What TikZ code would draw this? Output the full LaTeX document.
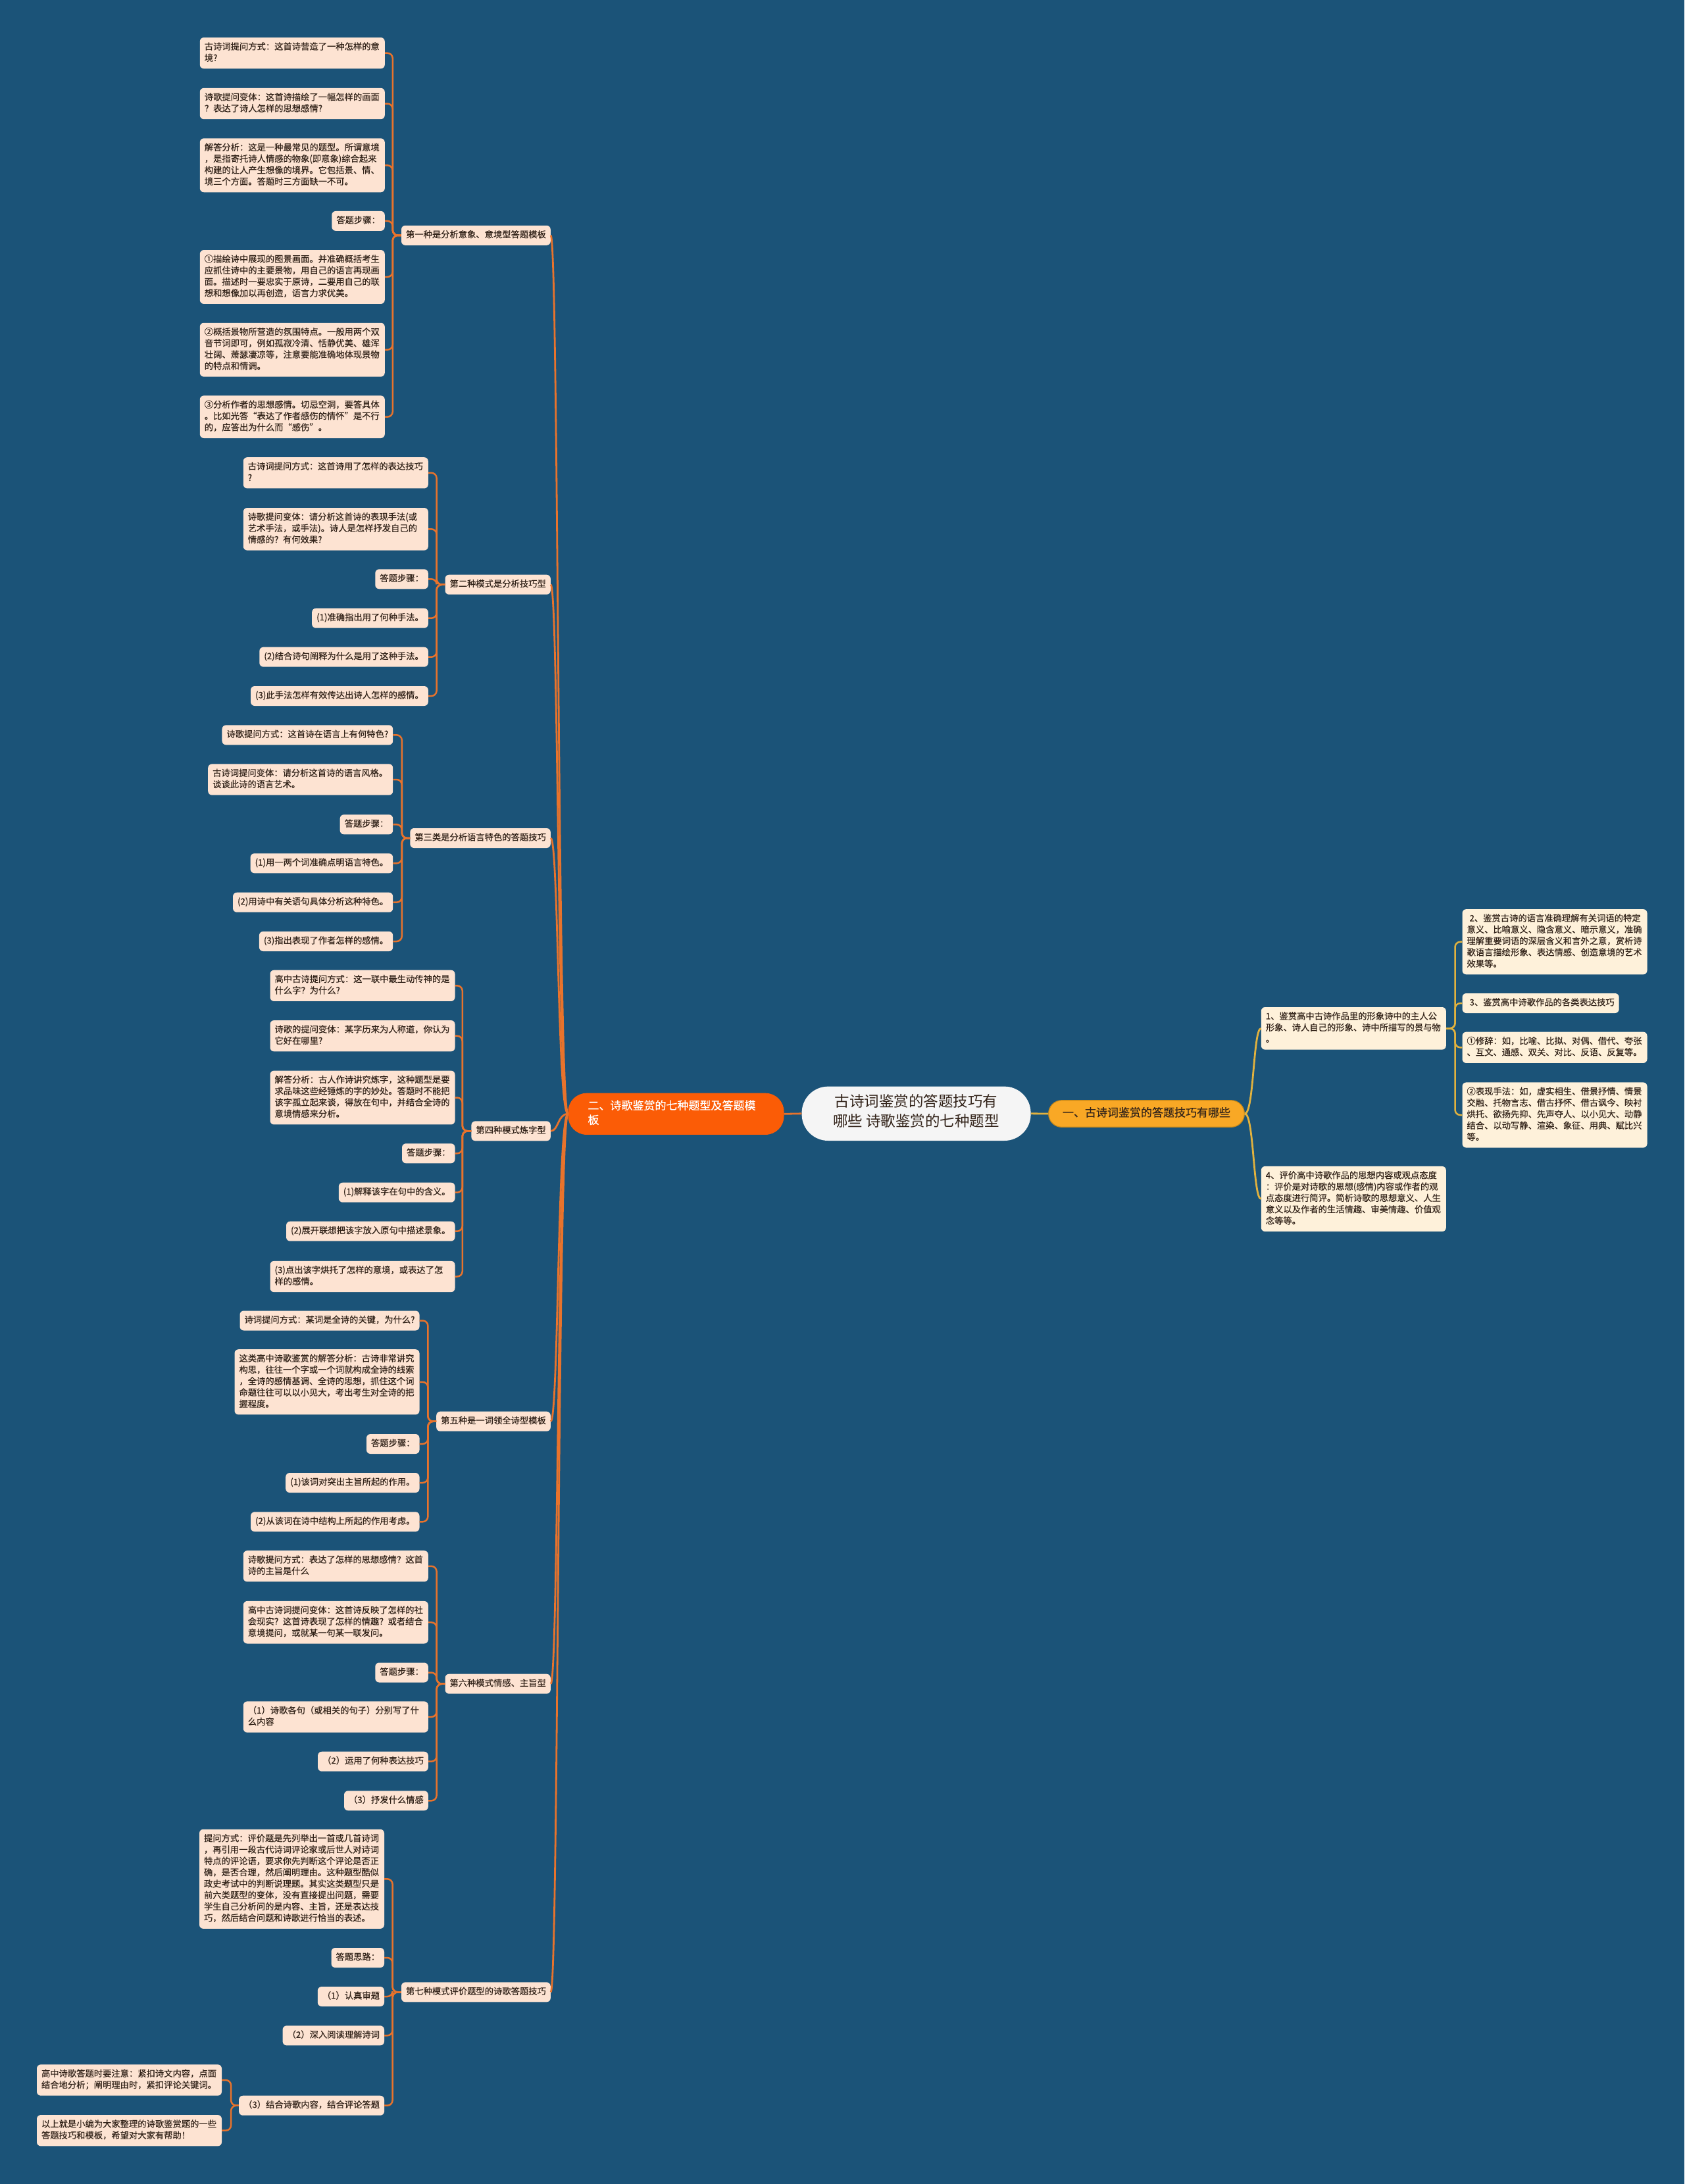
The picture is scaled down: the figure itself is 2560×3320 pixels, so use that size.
\documentclass[tikz,border=0pt]{standalone}
\usepackage{fontspec}
\setmainfont{Noto Sans CJK SC}
\newfontfamily\heavy{Noto Sans CJK SC}[FakeBold=0.5]
\definecolor{bg}{HTML}{1B5378}
\definecolor{lfill}{HTML}{FDE3D2}
\definecolor{rfill}{HTML}{FEF1DA}
\definecolor{ltext}{HTML}{33241A}
\definecolor{lconn}{HTML}{E8732C}
\definecolor{rconn}{HTML}{E2B23E}
\definecolor{mleft}{HTML}{FB5C06}
\definecolor{mright}{HTML}{F9A825}
\definecolor{mrightb}{HTML}{C98A1A}
\definecolor{cfill}{HTML}{F5F5F5}
\tikzset{
  base/.style={rounded corners=6pt, inner xsep=7pt, inner ysep=6.35pt, align=left, text=ltext,
    font=\heavy\fontsize{13.3pt}{17.3pt}\selectfont, execute at begin node=\strut, execute at end node=\strut},
  lleaf/.style={base, fill=lfill, anchor=east},
  wl/.style={lleaf, text width=267pt},
  rleaf/.style={base, fill=rfill, anchor=west},
  wr/.style={rleaf, text width=267pt},
  grp/.style={base, fill=lfill, anchor=east},
  lc/.style={draw=lconn, line width=2.5pt, rounded corners=8pt},
  rc/.style={draw=rconn, line width=2.5pt, rounded corners=8pt},
  trunkl/.style={draw=lconn, line width=2.8pt},
  trunkr/.style={draw=rconn, line width=2.8pt},
  mainleft/.style={fill=mleft, text=white, rounded corners=28pt, font=\heavy\fontsize{17pt}{22pt}\selectfont,
    text width=268pt, inner xsep=30pt, inner ysep=9.6pt, align=left, execute at begin node=\strut, execute at end node=\strut},
  mainright/.style={fill=mright, draw=mrightb, line width=1.2pt, text=ltext, rounded corners=20pt, font=\heavy\fontsize{17pt}{22pt}\selectfont,
    minimum width=297.6pt, inner xsep=4pt, inner ysep=9.3pt, align=center, execute at begin node=\strut, execute at end node=\strut},
  centre/.style={fill=cfill, text=ltext, rounded corners=40pt, font=\fontsize{22.5pt}{30pt}\selectfont,
    minimum width=348pt, inner xsep=4pt, inner ysep=12.15pt, align=center, execute at begin node=\strut, execute at end node=\strut},
}
\begin{document}
\begin{tikzpicture}[x=1pt,y=-1pt]
\fill[bg] (0,0) rectangle (2560,3320);
\useasboundingbox (0,0) rectangle (2560,3320);

% central
\node[centre] (c) at (1392.6,1692.8) {古诗词鉴赏的答题技巧有\\哪些 诗歌鉴赏的七种题型};
\node[mainleft] (m2) at (1027.5,1693.3) {二、诗歌鉴赏的七种题型及答题模\\板};
\node[mainright] (m1) at (1742.5,1693) {一、古诗词鉴赏的答题技巧有哪些};
\draw[trunkl] (c.west) -- (m2.east);
\draw[trunkr] (c.east) -- (m1.west);

% right side
\node[wr] (r1) at (1916.6,1563.3) {1、鉴赏高中古诗作品里的形象诗中的主人公\\形象、诗人自己的形象、诗中所描写的景与物\\。};
\node[wr] (r4) at (1916.6,1822.5) {4、评价高中诗歌作品的思想内容或观点态度\\：评价是对诗歌的思想(感情)内容或作者的观\\点态度进行简评。简析诗歌的思想意义、人生\\意义以及作者的生活情趣、审美情趣、价值观\\念等等。};
\node[wr] (ra) at (2222.3,1431.7) {\hspace*{4pt}2、鉴赏古诗的语言准确理解有关词语的特定\\意义、比喻意义、隐含意义、暗示意义，准确\\理解重要词语的深层含义和言外之意，赏析诗\\歌语言描绘形象、表达情感、创造意境的艺术\\效果等。};
\node[rleaf] (rb) at (2222.3,1525) {\hspace*{4pt}3、鉴赏高中诗歌作品的各类表达技巧};
\node[wr] (rcx) at (2222.3,1592.3) {①修辞：如，比喻、比拟、对偶、借代、夸张\\、互文、通感、双关、对比、反语、反复等。};
\node[wr] (rd) at (2222.3,1695) {②表现手法：如，虚实相生、借景抒情、情景\\交融、托物言志、借古抒怀、借古讽今、映衬\\烘托、欲扬先抑、先声夺人、以小见大、动静\\结合、以动写静、渲染、象征、用典、赋比兴\\等。};
\draw[trunkr] (m1.east) .. controls +(14,0) and +(-12,0) .. (r1.west);
\draw[trunkr] (m1.east) .. controls +(14,0) and +(-12,0) .. (r4.west);
\foreach \t in {ra,rb,rcx,rd} \draw[rc] (r1.east) -- ++(13.5,0) |- (\t.west);

% group 1
\node[grp] (g1) at (837,357.8) {第一种是分析意象、意境型答题模板};
\node[wl] (g1a) at (585,80.7) {古诗词提问方式：这首诗营造了一种怎样的意\\境?};
\node[wl] (g1b) at (585,157.5) {诗歌提问变体：这首诗描绘了一幅怎样的画面\\？表达了诗人怎样的思想感情?};
\node[wl] (g1c) at (585,251.3) {解答分析：这是一种最常见的题型。所谓意境\\，是指寄托诗人情感的物象(即意象)综合起来\\构建的让人产生想像的境界。它包括景、情、\\境三个方面。答题时三方面缺一不可。};
\node[lleaf] (g1d) at (585,335.9) {答题步骤：};
\node[wl] (g1e) at (585,421) {①描绘诗中展现的图景画面。并准确概括考生\\应抓住诗中的主要景物，用自己的语言再现画\\面。描述时一要忠实于原诗，二要用自己的联\\想和想像加以再创造，语言力求优美。};
\node[wl] (g1f) at (585,531.7) {②概括景物所营造的氛围特点。一般用两个双\\音节词即可，例如孤寂冷清、恬静优美、雄浑\\壮阔、萧瑟凄凉等，注意要能准确地体现景物\\的特点和情调。};
\node[wl] (g1g) at (585,633.7) {③分析作者的思想感情。切忌空洞，要答具体\\。比如光答“表达了作者感伤的情怀”是不行\\的，应答出为什么而“感伤”。};
\foreach \t in {g1a,g1b,g1c,g1d,g1e,g1f,g1g} \draw[lc] (g1.west) -- ++(-13,0) |- (\t.east);

% group 2
\node[grp] (g2) at (837,888.7) {第二种模式是分析技巧型};
\node[wl] (g2a) at (651,718.8) {古诗词提问方式：这首诗用了怎样的表达技巧\\?};
\node[wl] (g2b) at (651,804.3) {诗歌提问变体：请分析这首诗的表现手法(或\\艺术手法，或手法)。诗人是怎样抒发自己的\\情感的？有何效果?};
\node[lleaf] (g2c) at (651,880.3) {答题步骤：};
\node[lleaf] (g2d) at (651,939.7) {(1)准确指出用了何种手法。};
\node[lleaf] (g2e) at (651,998.7) {(2)结合诗句阐释为什么是用了这种手法。};
\node[lleaf] (g2f) at (651,1058) {(3)此手法怎样有效传达出诗人怎样的感情。};
\foreach \t in {g2a,g2b,g2c,g2d,g2e,g2f} \draw[lc] (g2.west) -- ++(-12.7,0) |- (\t.east);

% group 3
\node[grp] (g3) at (837,1274) {第三类是分析语言特色的答题技巧};
\node[lleaf] (g3a) at (597.4,1117.3) {诗歌提问方式：这首诗在语言上有何特色?};
\node[wl] (g3b) at (597.4,1185) {古诗词提问变体：请分析这首诗的语言风格。\\谈谈此诗的语言艺术。};
\node[lleaf] (g3c) at (597.4,1253.3) {答题步骤：};
\node[lleaf] (g3d) at (597.4,1312.3) {(1)用一两个词准确点明语言特色。};
\node[lleaf] (g3e) at (597.4,1371.7) {(2)用诗中有关语句具体分析这种特色。};
\node[lleaf] (g3f) at (597.4,1431) {(3)指出表现了作者怎样的感情。};
\foreach \t in {g3a,g3b,g3c,g3d,g3e,g3f} \draw[lc] (g3.west) -- ++(-12.3,0) |- (\t.east);

% group 4
\node[grp] (g4) at (837,1719.3) {第四种模式炼字型};
\node[wl] (g4a) at (691.7,1498.3) {高中古诗提问方式：这一联中最生动传神的是\\什么字？为什么?};
\node[wl] (g4b) at (691.7,1574.7) {诗歌的提问变体：某字历来为人称道，你认为\\它好在哪里?};
\node[wl] (g4c) at (691.7,1668.5) {解答分析：古人作诗讲究炼字，这种题型是要\\求品味这些经锤炼的字的妙处。答题时不能把\\该字孤立起来谈，得放在句中，并结合全诗的\\意境情感来分析。};
\node[lleaf] (g4d) at (691.7,1753.3) {答题步骤：};
\node[lleaf] (g4e) at (691.7,1812.7) {(1)解释该字在句中的含义。};
\node[lleaf] (g4f) at (691.7,1871.7) {(2)展开联想把该字放入原句中描述景象。};
\node[wl] (g4g) at (691.7,1940.5) {(3)点出该字烘托了怎样的意境，或表达了怎\\样的感情。};
\foreach \t in {g4a,g4b,g4c,g4d,g4e,g4f,g4g} \draw[lc] (g4.west) -- ++(-13.4,0) |- (\t.east);

% group 5
\node[grp] (g5) at (837,2160.7) {第五种是一词领全诗型模板};
\node[lleaf] (g5a) at (637.7,2007.5) {诗词提问方式：某词是全诗的关键，为什么?};
\node[wl] (g5b) at (637.7,2100.8) {这类高中诗歌鉴赏的解答分析：古诗非常讲究\\构思，往往一个字或一个词就构成全诗的线索\\，全诗的感情基调、全诗的思想，抓住这个词\\命题往往可以以小见大，考出考生对全诗的把\\握程度。};
\node[lleaf] (g5c) at (637.7,2195) {答题步骤：};
\node[lleaf] (g5d) at (637.7,2254) {(1)该词对突出主旨所起的作用。};
\node[lleaf] (g5e) at (637.7,2313.3) {(2)从该词在诗中结构上所起的作用考虑。};
\foreach \t in {g5a,g5b,g5c,g5d,g5e} \draw[lc] (g5.west) -- ++(-12.6,0) |- (\t.east);

% group 6
\node[grp] (g6) at (837,2559.7) {第六种模式情感、主旨型};
\node[wl] (g6a) at (651,2380.8) {诗歌提问方式：表达了怎样的思想感情？这首\\诗的主旨是什么};
\node[wl] (g6b) at (651,2466.2) {高中古诗词提问变体：这首诗反映了怎样的社\\会现实？这首诗表现了怎样的情趣？或者结合\\意境提问，或就某一句某一联发问。};
\node[lleaf] (g6c) at (651,2542.5) {答题步骤：};
\node[wl] (g6d) at (651,2610) {（1）诗歌各句（或相关的句子）分别写了什\\么内容};
\node[lleaf] (g6e) at (651,2677.7) {（2）运用了何种表达技巧};
\node[lleaf] (g6f) at (651,2737.3) {（3）抒发什么情感};
\foreach \t in {g6a,g6b,g6c,g6d,g6e,g6f} \draw[lc] (g6.west) -- ++(-12.7,0) |- (\t.east);

% group 7
\node[grp] (g7) at (837,3028.3) {第七种模式评价题型的诗歌答题技巧};
\node[wl] (g7a) at (584.2,2856.3) {提问方式：评价题是先列举出一首或几首诗词\\，再引用一段古代诗词评论家或后世人对诗词\\特点的评论语，要求你先判断这个评论是否正\\确，是否合理，然后阐明理由。这种题型酷似\\政史考试中的判断说理题。其实这类题型只是\\前六类题型的变体，没有直接提出问题，需要\\学生自己分析问的是内容、主旨，还是表达技\\巧，然后结合问题和诗歌进行恰当的表述。};
\node[lleaf] (g7b) at (584.2,2976) {答题思路：};
\node[lleaf] (g7c) at (584.2,3035) {（1）认真审题};
\node[lleaf] (g7d) at (584.2,3094.3) {（2）深入阅读理解诗词};
\node[lleaf] (g7e) at (584.2,3200.7) {（3）结合诗歌内容，结合评论答题};
\node[wl] (g7x) at (337.2,3162) {高中诗歌答题时要注意：紧扣诗文内容，点面\\结合地分析；阐明理由时，紧扣评论关键词。};
\node[wl] (g7y) at (337.2,3238.7) {以上就是小编为大家整理的诗歌鉴赏题的一些\\答题技巧和模板，希望对大家有帮助！};
\foreach \t in {g7a,g7b,g7c,g7d,g7e} \draw[lc] (g7.west) -- ++(-13.2,0) |- (\t.east);
\foreach \t in {g7x,g7y} \draw[lc] (g7e.west) -- ++(-11.8,0) |- (\t.east);

% trunk from left main to group labels
\foreach \g in {g1,g2,g3,g4,g5,g6,g7}
  \draw[trunkl] (m2.west) .. controls +(-16,0) and +(12,0) .. (\g.east);
\end{tikzpicture}
\end{document}
